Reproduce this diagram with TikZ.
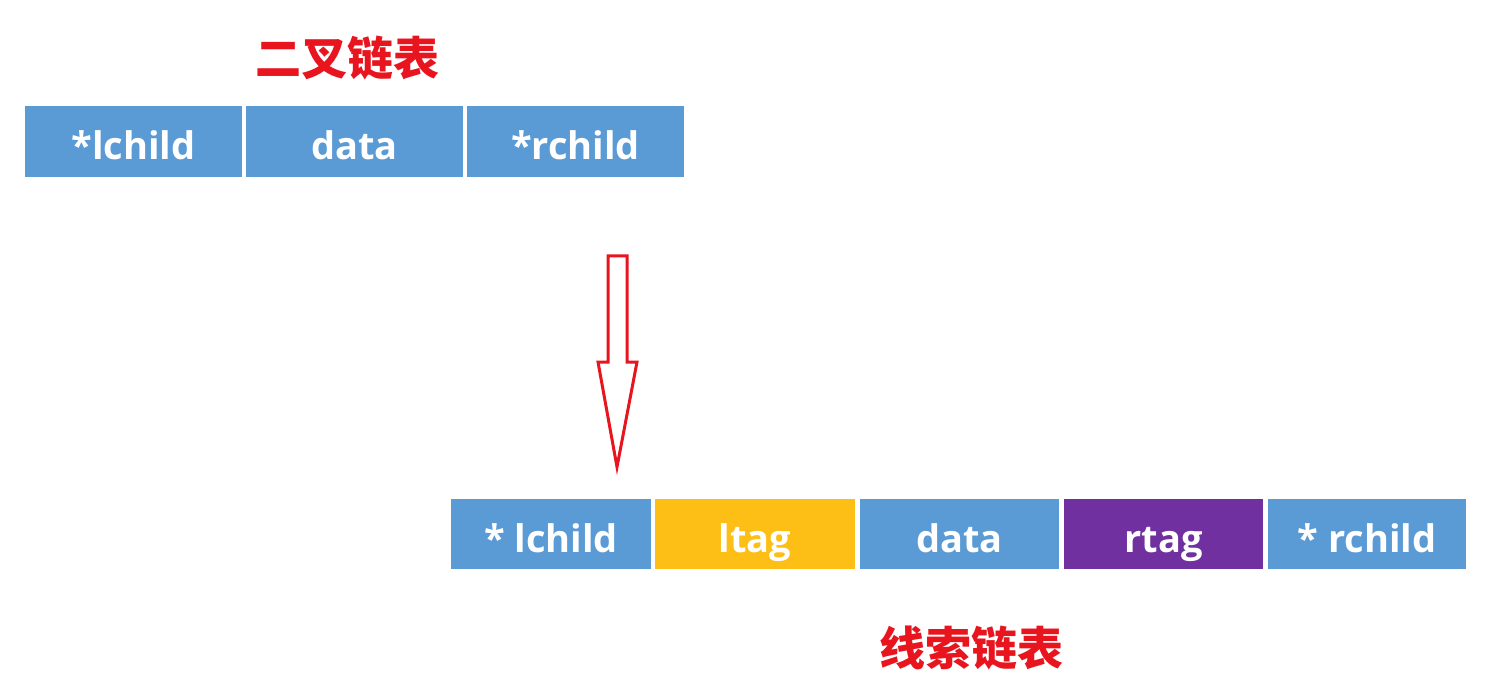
\documentclass[tikz,border=0pt]{standalone}
\usepackage{fontspec}
\setmainfont{Open Sans}
\newfontfamily\cjk{Noto Sans CJK SC}
\definecolor{cblue}{HTML}{5B9BD5}
\definecolor{cyel}{HTML}{FDBF16}
\definecolor{cpur}{HTML}{7030A0}
\definecolor{cred}{HTML}{E8141E}
\begin{document}
\begin{tikzpicture}[x=0.5pt,y=-0.5pt,
  cell/.style={inner sep=0pt,anchor=base,text=white,font=\fontsize{19}{21}\selectfont\bfseries},
  title/.style={text=cred,font=\cjk\bfseries\fontsize{23}{25}\selectfont}]
\useasboundingbox (0,0) rectangle (1510,695);
\foreach \x/\w/\c/\t/\n in {25/217/cblue/*lchild/a1,246/217/cblue/data/a2,467/217/cblue/*rchild/a3}{
  \fill[\c] (\x,106) rectangle ++(\w,71);
  \node[cell] (\n) at (\x+\w/2,160) {\t};}
\foreach \x/\w/\c/\t/\n in {451/200/cblue/* lchild/b1,655/200/cyel/ltag/b2,860/199/cblue/data/b3,1064/199/cpur/rtag/b4,1268/198/cblue/* rchild/b5}{
  \fill[\c] (\x,499) rectangle ++(\w,70);
  \node[cell] (\n) at (\x+\w/2,552) {\t};}
\node[title] (t1) at (347,58) {二叉链表};
\node[title] (t2) at (971,648) {线索链表};
\draw[cred,line width=1.5pt,line join=miter] (608,256) -- (627,256) -- (627,362) -- (637,362) -- (617,467) -- (598,362) -- (608,362) -- cycle;
\end{tikzpicture}
\end{document}
